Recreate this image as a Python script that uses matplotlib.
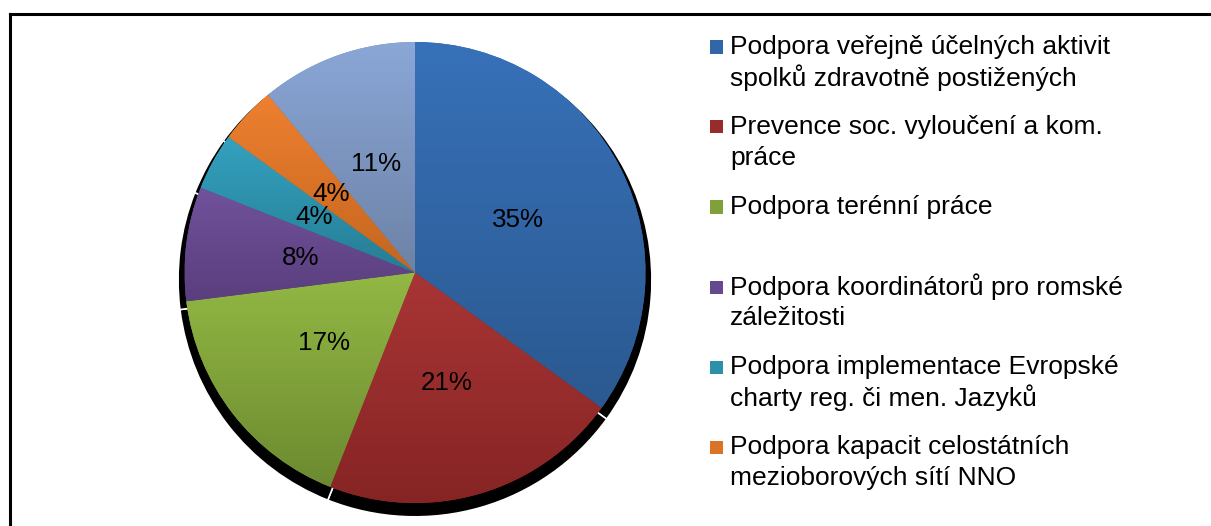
import numpy as np
import matplotlib
matplotlib.use("Agg")
import matplotlib.pyplot as plt
from matplotlib.colors import LinearSegmentedColormap
from matplotlib.patches import Rectangle
from matplotlib.lines import Line2D

plt.rcParams['font.family'] = ['Liberation Sans', 'DejaVu Sans']

# ---- data ----
categories = [
    "Podpora veřejně účelných aktivit\nspolků zdravotně postižených",
    "Prevence soc. vyloučení a kom.\npráce",
    "Podpora terénní práce",
    "Podpora koordinátorů pro romské\nzáležitosti",
    "Podpora implementace Evropské\ncharty reg. či men. Jazyků",
    "Podpora kapacit celostátních\nmezioborových sítí NNO",
    "Ostatní",
]
values = [35, 21, 17, 8, 4, 4, 11]
legend_count = 6  # the reference legend is cut off after six entries

# gradient colours (top, bottom) for each slice
colors_top = ["#3771B9", "#A93535", "#93B844", "#71529C", "#34A2C0", "#EE8030", "#8AA7D7"]
colors_bot = ["#2B5990", "#862424", "#6C8A30", "#5A3E7D", "#267D94", "#C4661F", "#6D82A6"]
colors_mid = ["#3166A8", "#982C2C", "#80A13A", "#654890", "#2D90AB", "#DA7326", "#7C95C0"]

W, H = 1211, 526
fig = plt.figure(figsize=(W / 100, H / 100), dpi=100)

# ---- pie axes ----
cx, cy, r = 415, 272.5, 230.5
k = 1.2
side = 2 * k * r
ax = fig.add_axes([(cx - side / 2) / W, ((H - cy) - side / 2) / H, side / W, side / H])

# shadow
ax.pie(values, radius=1.028, center=(0, -0.032), startangle=90, counterclock=False,
       colors=["black"] * len(values),
       wedgeprops=dict(edgecolor="white", linewidth=1.2))

wedges, texts, autotexts = ax.pie(
    values, radius=1.0, startangle=90, counterclock=False,
    colors=colors_mid, autopct=lambda p: f"{p:.0f}%", pctdistance=0.5,
    textprops=dict(fontsize=18.7, color="black"),
    wedgeprops=dict(edgecolor="none", linewidth=0))

for w, ct, cb in zip(wedges, colors_top, colors_bot):
    th = np.linspace(np.radians(w.theta1), np.radians(w.theta2), 200)
    xs = np.concatenate([[w.center[0]], w.center[0] + w.r * np.cos(th)])
    ys = np.concatenate([[w.center[1]], w.center[1] + w.r * np.sin(th)])
    cmap = LinearSegmentedColormap.from_list("g", [cb, ct])
    grad = np.linspace(0, 1, 256).reshape(-1, 1)
    im = ax.imshow(grad, extent=[xs.min(), xs.max(), ys.min(), ys.max()],
                   origin="lower", cmap=cmap, aspect="auto", zorder=w.get_zorder() + 0.1,
                   interpolation="bilinear")
    im.set_clip_path(w)

for t in autotexts:
    t.set_zorder(10)

ax.set_xlim(-k, k)
ax.set_ylim(-k, k)
ax.set_aspect("equal")
ax.axis("off")

# ---- legend (manual, lines aligned to first text line) ----
fs = 19
x_sq, sq = 710, 13
x_txt = 730
y0, step, lh = 47, 80, 31
for i in range(legend_count):
    yc = y0 + i * step
    fig.patches.append(Rectangle((x_sq / W, 1 - (yc + sq / 2) / H), sq / W, sq / H,
                                 transform=fig.transFigure, facecolor=colors_mid[i],
                                 edgecolor="none"))
    for j, line in enumerate(categories[i].split("\n")):
        fig.text(x_txt / W, 1 - (yc + j * lh) / H, line, fontsize=fs,
                 ha="left", va="center", color="black")

# ---- frame (top and left edges visible) ----
lw = 2.2
fig.lines.append(Line2D([9.5 / W, 1.01], [1 - 14 / H, 1 - 14 / H], transform=fig.transFigure,
                        color="black", linewidth=lw))
fig.lines.append(Line2D([9.5 / W, 9.5 / W], [1 - 14 / H, -0.01], transform=fig.transFigure,
                        color="black", linewidth=lw))

fig.savefig("out.png", dpi=100)
